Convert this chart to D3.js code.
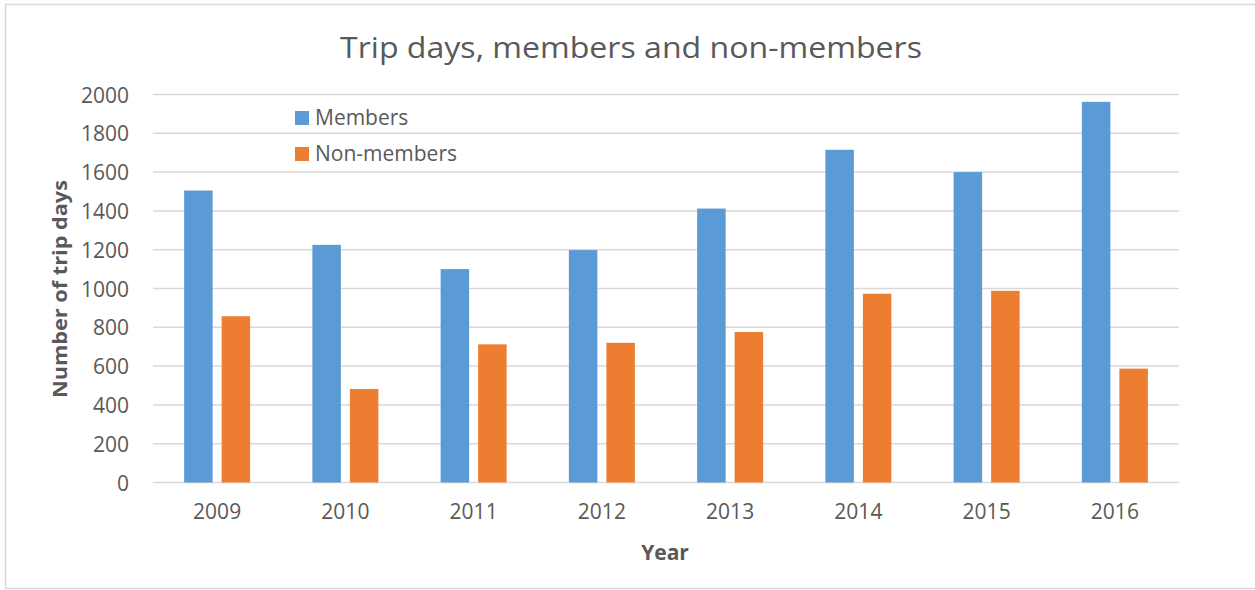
<!DOCTYPE html>
<html>
<head>
<meta charset="utf-8">
<script src="https://cdn.jsdelivr.net/npm/d3@7"></script>
<style>
  body { margin: 0; background: #fff; }
  text { font-family: "Open Sans", "Noto Sans", sans-serif; fill: #595959; }
</style>
</head>
<body>
<div id="plot"></div>
<script>
    const years = ["2009", "2010", "2011", "2012", "2013", "2014", "2015", "2016"];
    const seriesNames = ["Members", "Non-members"];
    const members = [1505, 1225, 1100, 1198, 1412, 1715, 1600, 1962];
    const nonMembers = [857, 482, 712, 720, 776, 973, 988, 587];
    const yTicks = [0, 200, 400, 600, 800, 1000, 1200, 1400, 1600, 1800, 2000];
    const colors = ["#5B9BD5", "#ED7D31"];

    const svg = d3.select("div#plot")
      .append("svg")
        .attr("width", 1255)
        .attr("height", 590);

    // chart frame
    svg.append("rect")
      .attr("x", 5.5)
      .attr("y", 4.5)
      .attr("width", 1262)
      .attr("height", 584)
      .attr("fill", "none")
      .attr("stroke", "#D9D9D9")
      .attr("stroke-width", 1.5);

    const xScale = d3.scaleBand()
      .domain(years)
      .range([153, 1179]);

    const groupWidth = 66;
    const xInner = d3.scaleBand()
      .domain(seriesNames)
      .range([0, groupWidth])
      .paddingInner(0.24);

    const yScale = d3.scaleLinear()
      .domain([0, 2000])
      .range([482.5, 94.5]);

    // gridlines
    svg.append("g")
      .selectAll("line")
      .data(yTicks)
      .enter()
      .append("line")
        .attr("x1", 153)
        .attr("x2", 1179)
        .attr("y1", d => yScale(d))
        .attr("y2", d => yScale(d))
        .attr("stroke", "#D9D9D9")
        .attr("stroke-width", 1.5);

    const yAxis = d3.axisLeft(yScale)
      .tickValues(yTicks)
      .tickFormat(d3.format("d"))
      .tickSize(0)
      .tickPadding(24);

    const yG = svg.append("g")
      .attr("transform", "translate(153, 0)")
      .call(yAxis);
    yG.select(".domain").remove();
    yG.selectAll("text")
      .style("font-size", "21px")
      .attr("dy", "0.36em");

    const xAxis = d3.axisBottom(xScale).tickSize(0).tickPadding(22);
    const xG = svg.append("g")
      .attr("transform", "translate(0, 482.5)")
      .call(xAxis);
    xG.select(".domain").remove();
    xG.selectAll("text")
      .style("font-size", "21px");

    const offset = (xScale.bandwidth() - groupWidth) / 2;
    [members, nonMembers].forEach((vals, s) => {
      svg.append("g")
        .selectAll("rect")
        .data(vals)
        .enter()
        .append("rect")
          .attr("x", (d, i) => xScale(years[i]) + offset + xInner(seriesNames[s]))
          .attr("y", d => yScale(d))
          .attr("width", xInner.bandwidth())
          .attr("height", d => yScale(0) - yScale(d))
          .attr("fill", colors[s]);
    });

    // title
    svg.append("text")
      .attr("x", 631)
      .attr("y", 58)
      .attr("text-anchor", "middle")
      .attr("textLength", 582)
      .attr("lengthAdjust", "spacingAndGlyphs")
      .style("font-size", "29px")
      .text("Trip days, members and non-members");

    // axis titles
    svg.append("text")
      .attr("transform", "translate(67, 289) rotate(-90)")
      .attr("text-anchor", "middle")
      .attr("textLength", 218)
      .attr("lengthAdjust", "spacingAndGlyphs")
      .style("font-size", "20px")
      .style("font-weight", "bold")
      .text("Number of trip days");

    svg.append("text")
      .attr("x", 665)
      .attr("y", 560)
      .attr("text-anchor", "middle")
      .style("font-size", "21px")
      .style("font-weight", "bold")
      .text("Year");

    // legend
    const key = svg.append("g")
      .attr("transform", "translate(295, 111)");

    seriesNames.forEach((name, i) => {
      key.append("rect")
        .attr("x", 0)
        .attr("y", i * 36)
        .attr("width", 14)
        .attr("height", 14)
        .attr("fill", colors[i]);
      key.append("text")
        .attr("x", 20)
        .attr("y", i * 36 + 14)
        .style("font-size", "21px")
        .text(name);
    });
</script>
</body>
</html>
